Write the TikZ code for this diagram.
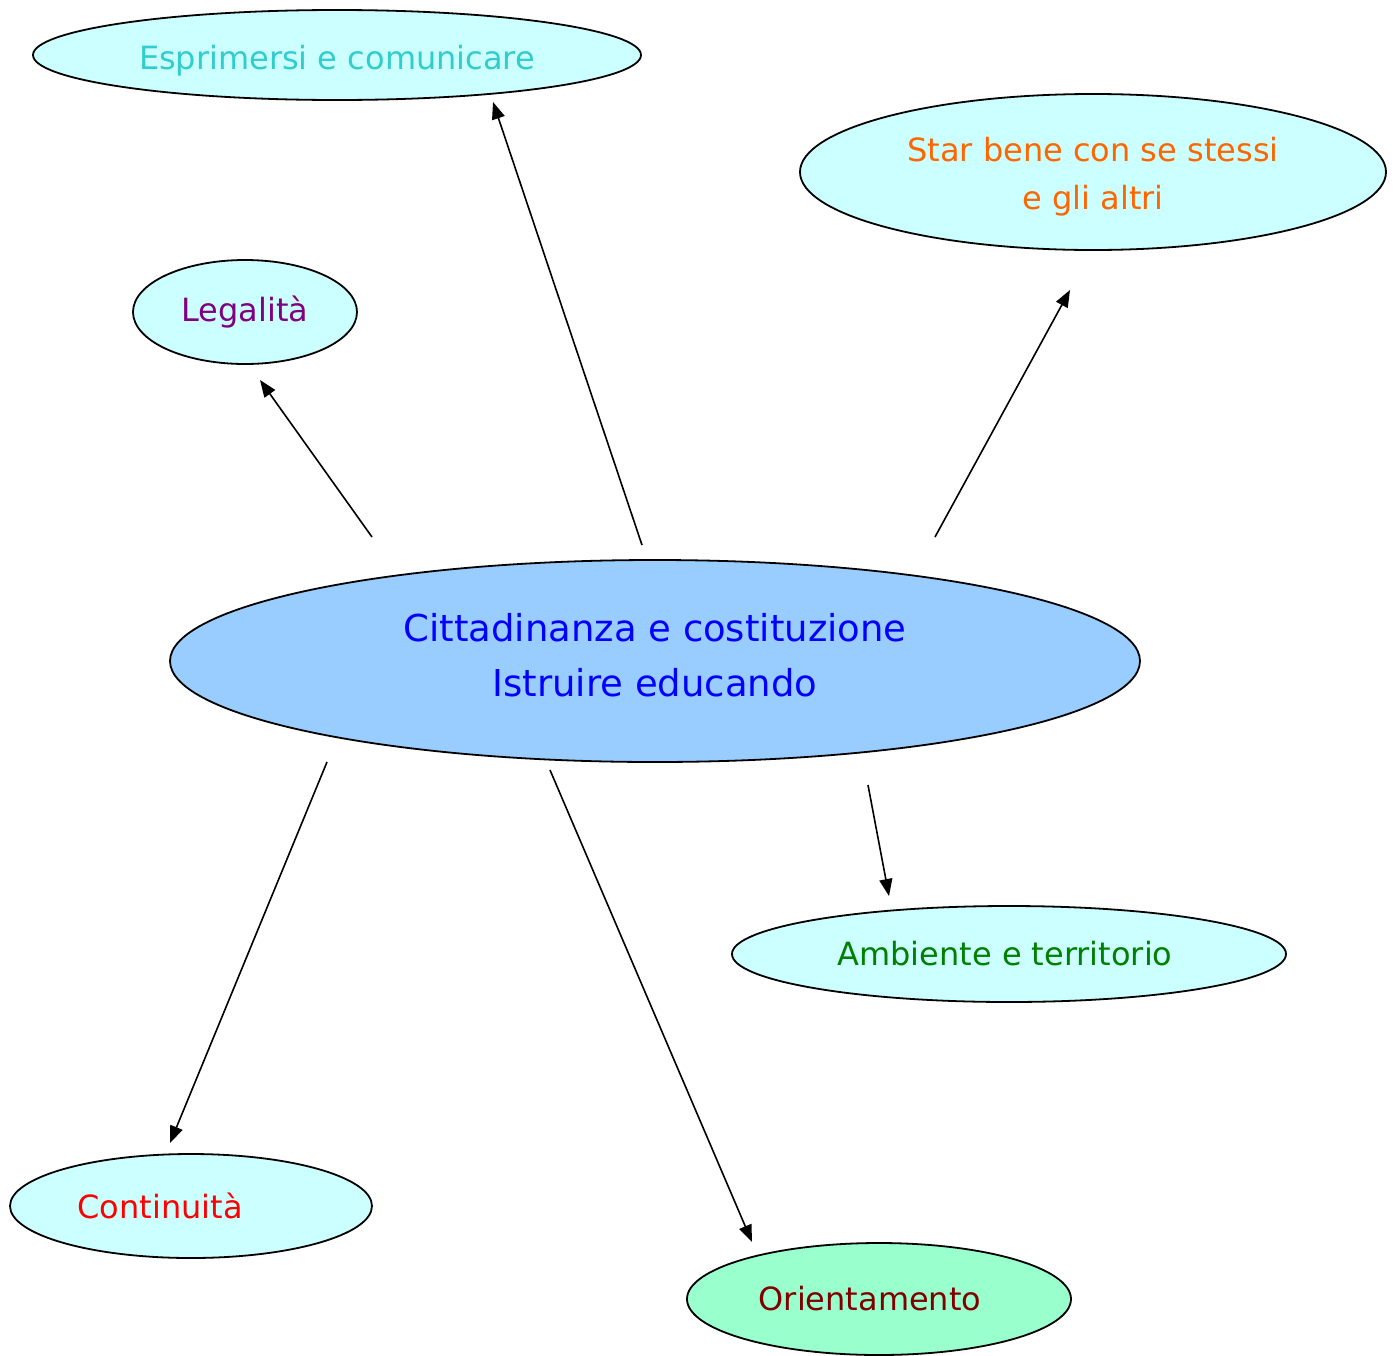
\documentclass[tikz,border=0pt]{standalone}
\usepackage{fontspec}
\setmainfont{DejaVu Sans}
\usetikzlibrary{shapes.geometric}
\usetikzlibrary{arrows.meta}
\definecolor{paleCyan}{HTML}{CCFFFF}
\definecolor{skyBlue}{HTML}{99CCFF}
\definecolor{mintGreen}{HTML}{99FFCC}
\definecolor{tealText}{HTML}{33CCCC}
\definecolor{orangeText}{HTML}{FF6600}
\definecolor{purpleText}{HTML}{800080}
\definecolor{greenText}{HTML}{008000}
\definecolor{maroonText}{HTML}{800000}

\begin{document}
\begin{tikzpicture}[x=1pt,y=-1pt,
        bubble/.style={ellipse, draw, line width=1.8pt, inner sep=0pt,
            fill=paleCyan, align=center, font=\fontsize{32}{48}\selectfont},
        link/.style={line width=1.6pt, -{Triangle[length=17pt,width=13pt]}}]
    \useasboundingbox (0,0) rectangle (1395,1355);

    \node[bubble, minimum width=970pt, minimum height=202pt, fill=skyBlue,
        text=blue, font=\fontsize{37}{55}\selectfont] (centro) at (655,661)
        {Cittadinanza e costituzione\\Istruire educando\rule[-12pt]{0pt}{12pt}};

    \node[bubble, minimum width=608pt, minimum height=90pt, text=tealText]
        (esprimersi) at (337,55) {\rule{0pt}{36pt}Esprimersi e comunicare};
    \node[bubble, minimum width=586pt, minimum height=156pt, text=orangeText]
        (starbene) at (1093,172) {\rule{0pt}{34pt}Star bene con se stessi\\e gli altri};
    \node[bubble, minimum width=224pt, minimum height=104pt, text=purpleText]
        (legalita) at (245,312) {Legalità};
    \node[bubble, minimum width=554pt, minimum height=96pt, text=greenText]
        (ambiente) at (1009,954) {Ambiente e territorio\hspace{8pt}};
    \node[bubble, minimum width=362pt, minimum height=104pt, text=red]
        (continuita) at (191,1206) {Continuità\hspace{62pt}};
    \node[bubble, minimum width=384pt, minimum height=112pt, fill=mintGreen,
        text=maroonText] (orientamento) at (879,1299) {Orientamento\hspace{18pt}};

    \coordinate (legalitaA) at (372,537);
    \coordinate (legalitaB) at (260,380);
    \coordinate (esprimersiA) at (642,545);
    \coordinate (esprimersiB) at (493,102);
    \coordinate (starbeneA) at (935,537);
    \coordinate (starbeneB) at (1070,290);
    \coordinate (continuitaA) at (327,762);
    \coordinate (continuitaB) at (170,1143);
    \coordinate (orientamentoA) at (550,770);
    \coordinate (orientamentoB) at (752,1242);
    \coordinate (ambienteA) at (868,785);
    \coordinate (ambienteB) at (889,896);

    \draw[link] (legalitaA) -- (legalitaB);
    \draw[link] (esprimersiA) -- (esprimersiB);
    \draw[link] (starbeneA) -- (starbeneB);
    \draw[link] (continuitaA) -- (continuitaB);
    \draw[link] (orientamentoA) -- (orientamentoB);
    \draw[link] (ambienteA) -- (ambienteB);
\end{tikzpicture}
\end{document}
